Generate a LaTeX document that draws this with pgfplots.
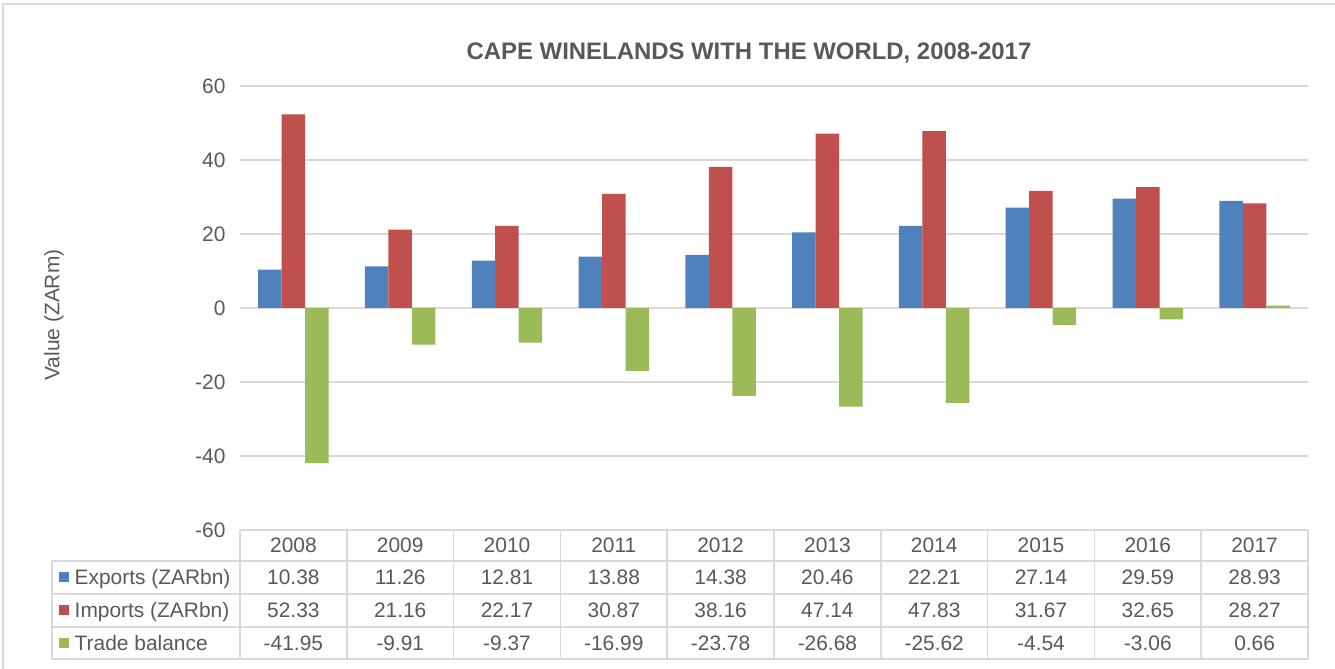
\documentclass[border=0pt]{standalone}
\usepackage{pgfplots}
\usepackage{pgfplotstable}
\pgfplotsset{compat=1.18}
\usepackage{fontspec}
\setmainfont{Liberation Sans}
\definecolor{txt}{HTML}{595959}
\definecolor{gridc}{HTML}{D9D9D9}
\definecolor{cexp}{HTML}{4F81BD}
\definecolor{cimp}{HTML}{C0504D}
\definecolor{cbal}{HTML}{9BBB59}
\pgfplotstableread{
x year exp imp bal
0 2008 10.38 52.33 -41.95
1 2009 11.26 21.16 -9.91
2 2010 12.81 22.17 -9.37
3 2011 13.88 30.87 -16.99
4 2012 14.38 38.16 -23.78
5 2013 20.46 47.14 -26.68
6 2014 22.21 47.83 -25.62
7 2015 27.14 31.67 -4.54
8 2016 29.59 32.65 -3.06
9 2017 28.93 28.27 0.66
}\data
\newcommand{\bodyfont}{\fontsize{21}{25}\selectfont}
\begin{document}
\begin{tikzpicture}[x=1bp,y=1bp]
\useasboundingbox (0,0) rectangle (1335,668);
\fill[white] (0,0) rectangle (1335,668);
\draw[gridc, line width=1.5bp] (3,-10) -- (3,664) -- (1345,664);
\begin{axis}[at={(240bp,138bp)}, anchor=south west,
  width=1068bp, height=444bp, scale only axis,
  xmin=-0.5, xmax=9.5, ymin=-60, ymax=60,
  ytick={-60,-40,...,60}, xtick=\empty,
  axis line style={draw=none},
  ymajorgrids, grid style={gridc, line width=1.5bp},
  major tick length=0pt,
  yticklabel style={font=\bodyfont, text=txt, xshift=-11bp},
  /pgf/number format/assume math mode=true,
  ybar, bar width=0.22, clip=false]
\addplot[fill=cexp, draw=none, bar shift=-0.22] table[x=x,y=exp]{\data};
\addplot[fill=cimp, draw=none, bar shift=0] table[x=x,y=imp]{\data};
\addplot[fill=cbal, draw=none, bar shift=0.22] table[x=x,y=bal]{\data};
\end{axis}
% title and y label
\node[font=\fontsize{24}{28}\selectfont\bfseries, text=txt] at (749,615) {CAPE WINELANDS WITH THE WORLD, 2008-2017};
\node[font=\bodyfont, text=txt, rotate=90] at (54,353) {Value (ZARm)};
% data table lines
\begin{scope}[gridc, line width=1.5bp]
\draw (240,138) -- (1308,138);
\foreach \yy in {107,74,41,9} \draw (52,\yy) -- (1308,\yy);
\draw (52,107) -- (52,9);
\foreach \i in {0,...,10} \draw ({240+106.8*\i},138) -- ({240+106.8*\i},9);
\end{scope}
% legend keys and row labels
\fill[cexp] (59,85.5) rectangle (69,95.5);
\fill[cimp] (59,52.5) rectangle (69,62.5);
\fill[cbal] (59,20) rectangle (69,30);
\node[font=\bodyfont, text=txt, anchor=base west, inner sep=0] at (74.5,83) {Exports (ZARbn)};
\node[font=\bodyfont, text=txt, anchor=base west, inner sep=0] at (74.5,50) {Imports (ZARbn)};
\node[font=\bodyfont, text=txt, anchor=base west, inner sep=0] at (74.5,17.5) {Trade balance};
% table cells
\foreach \i in {0,...,9} {
  \pgfmathsetmacro{\cx}{240+106.8*\i+53.4}
  \pgfplotstablegetelem{\i}{year}\of\data
  \node[font=\bodyfont, text=txt, anchor=base, inner sep=0] at (\cx,115.5) {\pgfplotsretval};
  \pgfplotstablegetelem{\i}{exp}\of\data
  \node[font=\bodyfont, text=txt, anchor=base, inner sep=0] at (\cx,83) {\pgfplotsretval};
  \pgfplotstablegetelem{\i}{imp}\of\data
  \node[font=\bodyfont, text=txt, anchor=base, inner sep=0] at (\cx,50) {\pgfplotsretval};
  \pgfplotstablegetelem{\i}{bal}\of\data
  \node[font=\bodyfont, text=txt, anchor=base, inner sep=0] at (\cx,17.5) {\pgfplotsretval};
}
\end{tikzpicture}
\end{document}
